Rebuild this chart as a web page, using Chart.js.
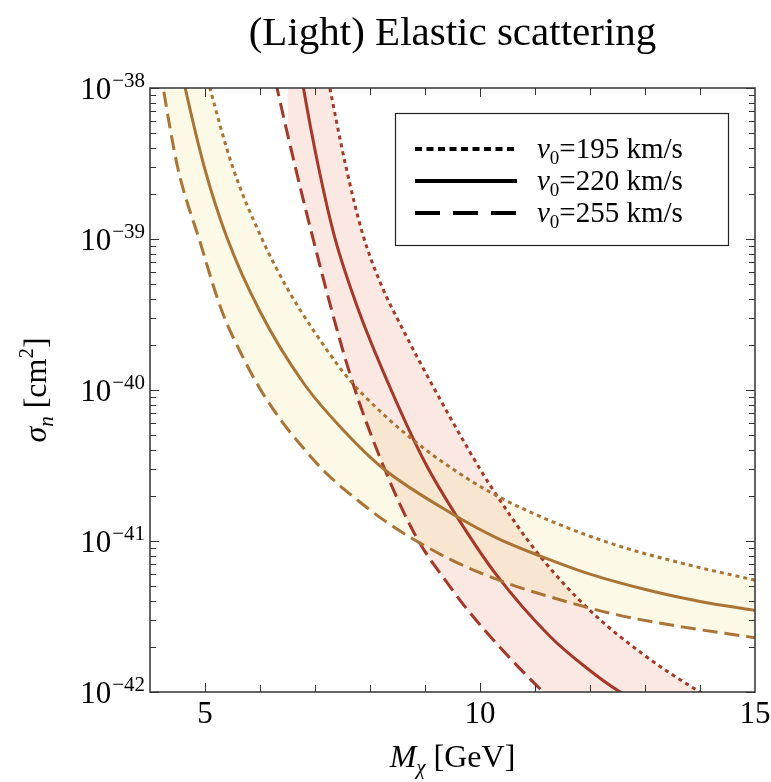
<!DOCTYPE html>
<html>
<head>
<meta charset="utf-8">
<title>(Light) Elastic scattering</title>
<script src="https://cdn.jsdelivr.net/npm/chart.js@4.4.1/dist/chart.umd.min.js"></script>
<style>
    body { margin: 0; background: #fff; }
    #wrap { width: 771px; height: 782px; }
</style>
</head>
<body>
<div id="wrap"><canvas id="elastic-chart"></canvas></div>
<script>
// brown band (v0 = 195 / 220 / 255 km/s), mass in GeV, sigma in cm^2
const brownMass195 = [4.0, 5.09, 5.5, 6.0, 6.5, 7.0, 7.6, 8.3, 8.85, 9.45, 10.2, 11.3, 12.5, 13.7, 15.0];
const brownSigma195 = [3.98e-37, 1.0e-38, 3.02e-39, 1.07e-39, 4.68e-40, 2.40e-40, 1.20e-40, 6.61e-41, 4.47e-41, 3.09e-41, 2.09e-41, 1.35e-41, 9.33e-42, 7.08e-42, 5.50e-42];

const brownMass220 = [4.0, 4.64, 5.0, 5.4, 6.0, 6.8, 7.5, 8.24, 9.5, 10.3, 11.1, 12.0, 13.1, 14.0, 15.0];
const brownSigma220 = [1.32e-37, 1.0e-38, 2.88e-39, 1.02e-39, 3.31e-40, 1.10e-40, 5.50e-41, 3.02e-41, 1.51e-41, 1.05e-41, 7.94e-42, 6.03e-42, 4.68e-42, 3.98e-42, 3.47e-42];

const brownMass255 = [4.0, 4.24, 4.5, 4.91, 5.3, 5.7, 6.0, 6.4, 6.73, 7.2, 7.64, 8.36, 9.45, 10.5, 11.27, 12.5, 13.7, 15.0];
const brownSigma255 = [3.55e-38, 1.0e-38, 3.02e-39, 9.55e-40, 3.39e-40, 1.62e-40, 1.02e-40, 6.17e-41, 4.37e-41, 2.82e-41, 2.04e-41, 1.29e-41, 7.59e-42, 5.25e-42, 4.27e-42, 3.24e-42, 2.69e-42, 2.29e-42];

// red band
const redMass195 = [6.5, 7.27, 7.55, 7.87, 8.2, 8.6, 9.08, 9.8, 10.2, 11.09, 12.0, 13.0, 14.0, 15.0];
const redSigma195 = [2.51e-37, 1.0e-38, 3.16e-39, 1.07e-39, 5.01e-40, 2.51e-40, 1.17e-40, 3.98e-41, 2.29e-41, 7.94e-42, 3.47e-42, 1.74e-42, 1.0e-42, 6.31e-43];

const redMass220 = [6.3, 6.79, 7.05, 7.36, 7.8, 8.35, 9.0, 9.58, 10.31, 11.27, 11.9, 12.55, 13.5, 15.0];
const redSigma220 = [1.26e-37, 1.0e-38, 3.16e-39, 1.02e-39, 3.31e-40, 1.07e-40, 3.31e-41, 1.45e-41, 5.89e-42, 2.34e-42, 1.48e-42, 1.0e-42, 7.08e-43, 4.47e-43];

const redMass255 = [5.8, 6.31, 6.96, 7.64, 8.24, 8.85, 9.45, 9.76, 10.4, 11.15, 12.0, 15.0];
const redSigma255 = [7.94e-38, 1.0e-38, 1.02e-39, 1.26e-40, 3.16e-41, 1.05e-41, 5.01e-42, 3.55e-42, 1.91e-42, 1.0e-42, 5.25e-43, 1.0e-43];

const xTickLabels = [5, 10, 15];
const xMinorTicks = [5, 6, 7, 8, 9, 10, 11, 12, 13, 14];
const yDecades = [-42, -41, -40, -39, -38];
const yMinorSteps = [2, 3, 4, 5, 6, 7, 8, 9];
const legendSpeeds = ['195', '220', '255'];

const serif = '"Liberation Serif", "DejaVu Serif", serif';
const brown = '#ab7437';
const red = '#a6382a';
const dotted = [4, 4];
const dashed = [15, 7];

function toPoints(mass, sigma) {
    return mass.map((m, i) => ({ x: m, y: sigma[i] }));
}

// draws "10" with a superscript exponent, right-aligned at xRight
function drawPower(ctx, exp, xRight, yMid) {
    const sup = '\u2212' + Math.abs(exp);
    ctx.font = `31px ${serif}`;
    const baseW = ctx.measureText('10').width;
    ctx.font = `21px ${serif}`;
    const supW = ctx.measureText(sup).width;
    const x0 = xRight - baseW - supW;
    ctx.font = `31px ${serif}`;
    ctx.fillText('10', x0, yMid + 11);
    ctx.font = `21px ${serif}`;
    ctx.fillText(sup, x0 + baseW + 1, yMid - 1);
}

// draws a run of [text, font, dy] pieces starting at x
function drawRuns(ctx, runs, x, y) {
    runs.forEach(([text, font, dy]) => {
        ctx.font = font;
        ctx.fillText(text, x, y + dy);
        x += ctx.measureText(text).width;
    });
    return x;
}

function runsWidth(ctx, runs) {
    return runs.reduce((w, [text, font]) => {
        ctx.font = font;
        return w + ctx.measureText(text).width;
    }, 0);
}

const decorations = {
    id: 'decorations',
    afterDatasetsDraw(chart) {
        const { ctx, chartArea: a, scales: { x, y } } = chart;
        ctx.save();
        ctx.fillStyle = '#000';
        ctx.strokeStyle = '#333';
        ctx.textBaseline = 'alphabetic';

        // ticks on all four sides, pointing inward
        ctx.lineWidth = 1;
        xMinorTicks.forEach(v => {
            const px = Math.round(x.getPixelForValue(v)) + 0.5;
            const len = xTickLabels.includes(v) ? 9 : 7;
            ctx.beginPath();
            ctx.moveTo(px, a.bottom); ctx.lineTo(px, a.bottom - len);
            ctx.moveTo(px, a.top); ctx.lineTo(px, a.top + len);
            ctx.stroke();
        });
        yDecades.forEach(d => {
            const marks = [[Math.pow(10, d), 9]];
            if (d < -38) yMinorSteps.forEach(k => marks.push([k * Math.pow(10, d), 6]));
            marks.forEach(([v, len]) => {
                const py = Math.round(y.getPixelForValue(v)) + 0.5;
                ctx.beginPath();
                ctx.moveTo(a.left, py); ctx.lineTo(a.left + len, py);
                ctx.moveTo(a.right, py); ctx.lineTo(a.right - len, py);
                ctx.stroke();
            });
        });

        // frame
        ctx.lineWidth = 1.5;
        ctx.strokeRect(a.left, a.top, a.right - a.left, a.bottom - a.top);

        // tick labels
        ctx.font = `31px ${serif}`;
        ctx.textAlign = 'center';
        xTickLabels.forEach(v => ctx.fillText(String(v), x.getPixelForValue(v), 723));
        ctx.textAlign = 'left';
        yDecades.forEach(d => drawPower(ctx, d, 144, y.getPixelForValue(Math.pow(10, d))));

        // title
        ctx.textAlign = 'center';
        ctx.font = `41px ${serif}`;
        ctx.fillText('(Light) Elastic scattering', (a.left + a.right) / 2, 45);
        ctx.textAlign = 'left';

        // x-axis title
        const big = `32px ${serif}`, bigIt = `italic 32px ${serif}`, smallIt = `italic 21px ${serif}`;
        const xRuns = [['M', bigIt, 0], ['\u03c7', smallIt, 7], [' [GeV]', big, 0]];
        drawRuns(ctx, xRuns, (a.left + a.right) / 2 - runsWidth(ctx, xRuns) / 2, 767);

        // y-axis title
        const yRuns = [['\u03c3', bigIt, 0], ['n', smallIt, 7], [' [cm', big, 0], ['2', `21px ${serif}`, -13], [']', big, 0]];
        ctx.save();
        ctx.translate(46, (a.top + a.bottom) / 2);
        ctx.rotate(-Math.PI / 2);
        drawRuns(ctx, yRuns, -runsWidth(ctx, yRuns) / 2, 0);
        ctx.restore();

        // legend
        ctx.fillStyle = '#fff';
        ctx.fillRect(395, 113, 333, 132);
        ctx.strokeStyle = '#222';
        ctx.lineWidth = 1.2;
        ctx.strokeRect(395.5, 113.5, 333, 132);
        const legendDash = [[7, 4.5], [], [25, 13]];
        legendSpeeds.forEach((speed, i) => {
            const ly = 149 + i * 32;
            ctx.strokeStyle = '#000';
            ctx.lineWidth = 4;
            ctx.setLineDash(legendDash[i]);
            ctx.beginPath();
            ctx.moveTo(415, ly); ctx.lineTo(517, ly);
            ctx.stroke();
            ctx.setLineDash([]);
            ctx.fillStyle = '#000';
            drawRuns(ctx, [
                ['v', `italic 29px ${serif}`, 0],
                ['0', `19px ${serif}`, 6],
                ['=' + speed + ' km/s', `29px ${serif}`, 0]
            ], 537, ly + 9);
        });
        ctx.restore();
    }
};

new Chart(document.getElementById('elastic-chart'), {
    type: 'line',
    data: {
        datasets: [
            { data: toPoints(brownMass195, brownSigma195), borderColor: brown, borderDash: dotted, fill: 2, backgroundColor: 'rgba(240, 220, 120, 0.18)' },
            { data: toPoints(brownMass220, brownSigma220), borderColor: brown, fill: false },
            { data: toPoints(brownMass255, brownSigma255), borderColor: brown, borderDash: dashed, fill: false },
            { data: toPoints(redMass195, redSigma195), borderColor: red, borderDash: dotted, fill: 5, backgroundColor: 'rgba(235, 120, 90, 0.17)' },
            { data: toPoints(redMass220, redSigma220), borderColor: red, fill: false },
            { data: toPoints(redMass255, redSigma255), borderColor: red, borderDash: dashed, fill: false }
        ]
    },
    options: {
        responsive: true,
        maintainAspectRatio: false,
        animation: false,
        layout: { padding: { left: 150, right: 16, top: 88, bottom: 90 } },
        elements: {
            point: { radius: 0 },
            line: { borderWidth: 3, cubicInterpolationMode: 'monotone' }
        },
        scales: {
            x: { type: 'linear', min: 4, max: 15, display: false },
            y: { type: 'logarithmic', min: 1e-42, max: 1e-38, display: false }
        },
        plugins: {
            legend: { display: false },
            tooltip: { enabled: false },
            filler: { drawTime: 'beforeDatasetsDraw' }
        }
    },
    plugins: [decorations]
});
</script>
</body>
</html>
